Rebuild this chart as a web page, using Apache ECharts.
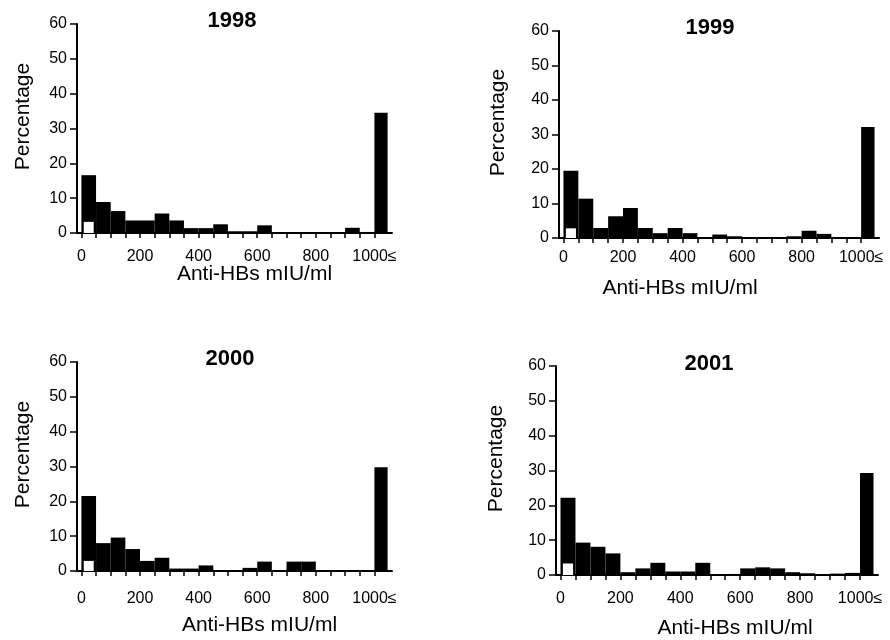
<!DOCTYPE html>
<html>
<head>
<meta charset="utf-8">
<script src="https://cdn.jsdelivr.net/npm/echarts@6/dist/echarts.min.js"></script>
<style>
html, body { margin: 0; background: #fff; }
#main { width: 890px; height: 640px; }
</style>
</head>
<body>
<div id="main"></div>
<script>
// histogram bins of Anti-HBs titre (mIU/ml), last one is "1000 and over"
var bins = [
  [0, 50], [50, 100], [100, 150], [150, 200], [200, 250], [250, 300], [300, 350],
  [350, 400], [400, 450], [450, 500], [500, 550], [550, 600], [600, 650], [650, 700],
  [700, 750], [750, 800], [800, 850], [850, 900], [900, 950], [950, 1000], [1000, 1045]
];
var years = ["1998", "1999", "2000", "2001"];

// percentage per bin
var pct1998 = [16.6, 8.9, 6.3, 3.6, 3.6, 5.6, 3.6, 1.4, 1.4, 2.5, 0.5, 0.5, 2.2, 0, 0, 0, 0, 0, 1.5, 0.3, 34.5];
var pct1999 = [19.5, 11.4, 2.9, 6.3, 8.7, 2.9, 1.4, 2.9, 1.4, 0, 1.0, 0.5, 0, 0, 0, 0.5, 2.1, 1.2, 0, 0, 32.2];
var pct2000 = [21.5, 8.0, 9.6, 6.3, 2.9, 3.8, 0.7, 0.7, 1.6, 0, 0, 0.9, 2.7, 0, 2.7, 2.7, 0, 0, 0, 0, 29.8];
var pct2001 = [22.2, 9.3, 8.1, 6.2, 0.8, 1.9, 3.5, 1.0, 1.0, 3.5, 0.2, 0.3, 1.9, 2.2, 1.9, 0.8, 0.5, 0, 0.4, 0.6, 29.3];
var allPct = [pct1998, pct1999, pct2000, pct2001];

// small open bar inside the first bin
var openBin = [8, 42];
var openPct = [3.2, 2.8, 2.9, 3.3];

var xTickValues = [0, 50, 100, 150, 200, 250, 300, 350, 400, 450, 500, 550, 600, 650, 700, 750, 800, 850, 900, 950, 1000];
var xLabelValues = [0, 200, 400, 600, 800, 1000];

var font = '"Liberation Sans", Arial, Helvetica, sans-serif';

// where each panel sits on the page
var panels = [
  { left: 77, top: 24, width: 315, height: 209, tx: 232, ty: 10, nameShift: 20, xGap: 31, labelGap: 16, yGap: 43 },
  { left: 559, top: 31, width: 320, height: 207, tx: 710, ty: 17, nameShift: -39, xGap: 40, labelGap: 12, yGap: 50 },
  { left: 77, top: 362, width: 315, height: 209, tx: 230, ty: 348, nameShift: 25, xGap: 44, labelGap: 20, yGap: 43 },
  { left: 556, top: 366, width: 322, height: 209, tx: 709, ty: 353, nameShift: 18, xGap: 43, labelGap: 16, yGap: 49 }
];

function histItem(fill) {
  return function (params, api) {
    var p0 = api.coord([api.value(0), api.value(2)]);
    var p1 = api.coord([api.value(1), 0]);
    return {
      type: "rect",
      shape: { x: p0[0], y: p0[1], width: p1[0] - p0[0], height: p1[1] - p0[1] },
      style: { fill: fill }
    };
  };
}

var option = { animation: false, title: [], grid: [], xAxis: [], yAxis: [], series: [] };

panels.forEach(function (p, i) {
  option.title.push({
    text: years[i],
    left: p.tx,
    top: p.ty,
    textAlign: "center",
    padding: 0,
    textStyle: { fontFamily: font, fontSize: 22, fontWeight: "bold", color: "#000" }
  });
  option.grid.push({ left: p.left, top: p.top, width: p.width, height: p.height, containLabel: false });
  option.xAxis.push({
    type: "value",
    gridIndex: i,
    min: -15,
    max: 1060,
    name: "Anti-HBs mIU/ml",
    nameLocation: "middle",
    nameGap: p.xGap,
    nameMoveOverlap: false,
    nameTextStyle: {
      fontFamily: font, fontSize: 21, color: "#000",
      padding: p.nameShift > 0 ? [0, 0, 0, 2 * p.nameShift] : [0, -2 * p.nameShift, 0, 0]
    },
    axisLine: { lineStyle: { color: "#000", width: 2 } },
    axisTick: { customValues: xTickValues, length: 5, lineStyle: { color: "#000", width: 1.5 } },
    axisLabel: {
      customValues: xLabelValues,
      margin: p.labelGap,
      fontFamily: font, fontSize: 16, color: "#000",
      formatter: function (v) { return v === 1000 ? "1000\u2264" : String(v); }
    },
    splitLine: { show: false }
  });
  option.yAxis.push({
    type: "value",
    gridIndex: i,
    min: 0,
    max: 60,
    interval: 10,
    name: "Percentage",
    nameLocation: "middle",
    nameGap: p.yGap,
    nameMoveOverlap: false,
    nameTextStyle: { fontFamily: font, fontSize: 21, color: "#000", padding: [0, 0, 0, 24] },
    axisLine: { show: true, onZero: false, lineStyle: { color: "#000", width: 2 } },
    axisTick: { show: true, length: 7, lineStyle: { color: "#000", width: 1.5 } },
    axisLabel: { margin: 10, fontFamily: font, fontSize: 16, color: "#000" },
    splitLine: { show: false }
  });
  option.series.push({
    type: "custom",
    xAxisIndex: i,
    yAxisIndex: i,
    renderItem: histItem("#000"),
    encode: { x: [0, 1], y: 2 },
    data: bins.map(function (b, k) { return [b[0], b[1], allPct[i][k]]; })
  });
  option.series.push({
    type: "custom",
    xAxisIndex: i,
    yAxisIndex: i,
    renderItem: histItem("#fff"),
    encode: { x: [0, 1], y: 2 },
    data: [[openBin[0], openBin[1], openPct[i]]]
  });
});

var chart = echarts.init(document.getElementById("main"));
chart.setOption(option);
</script>
</body>
</html>
